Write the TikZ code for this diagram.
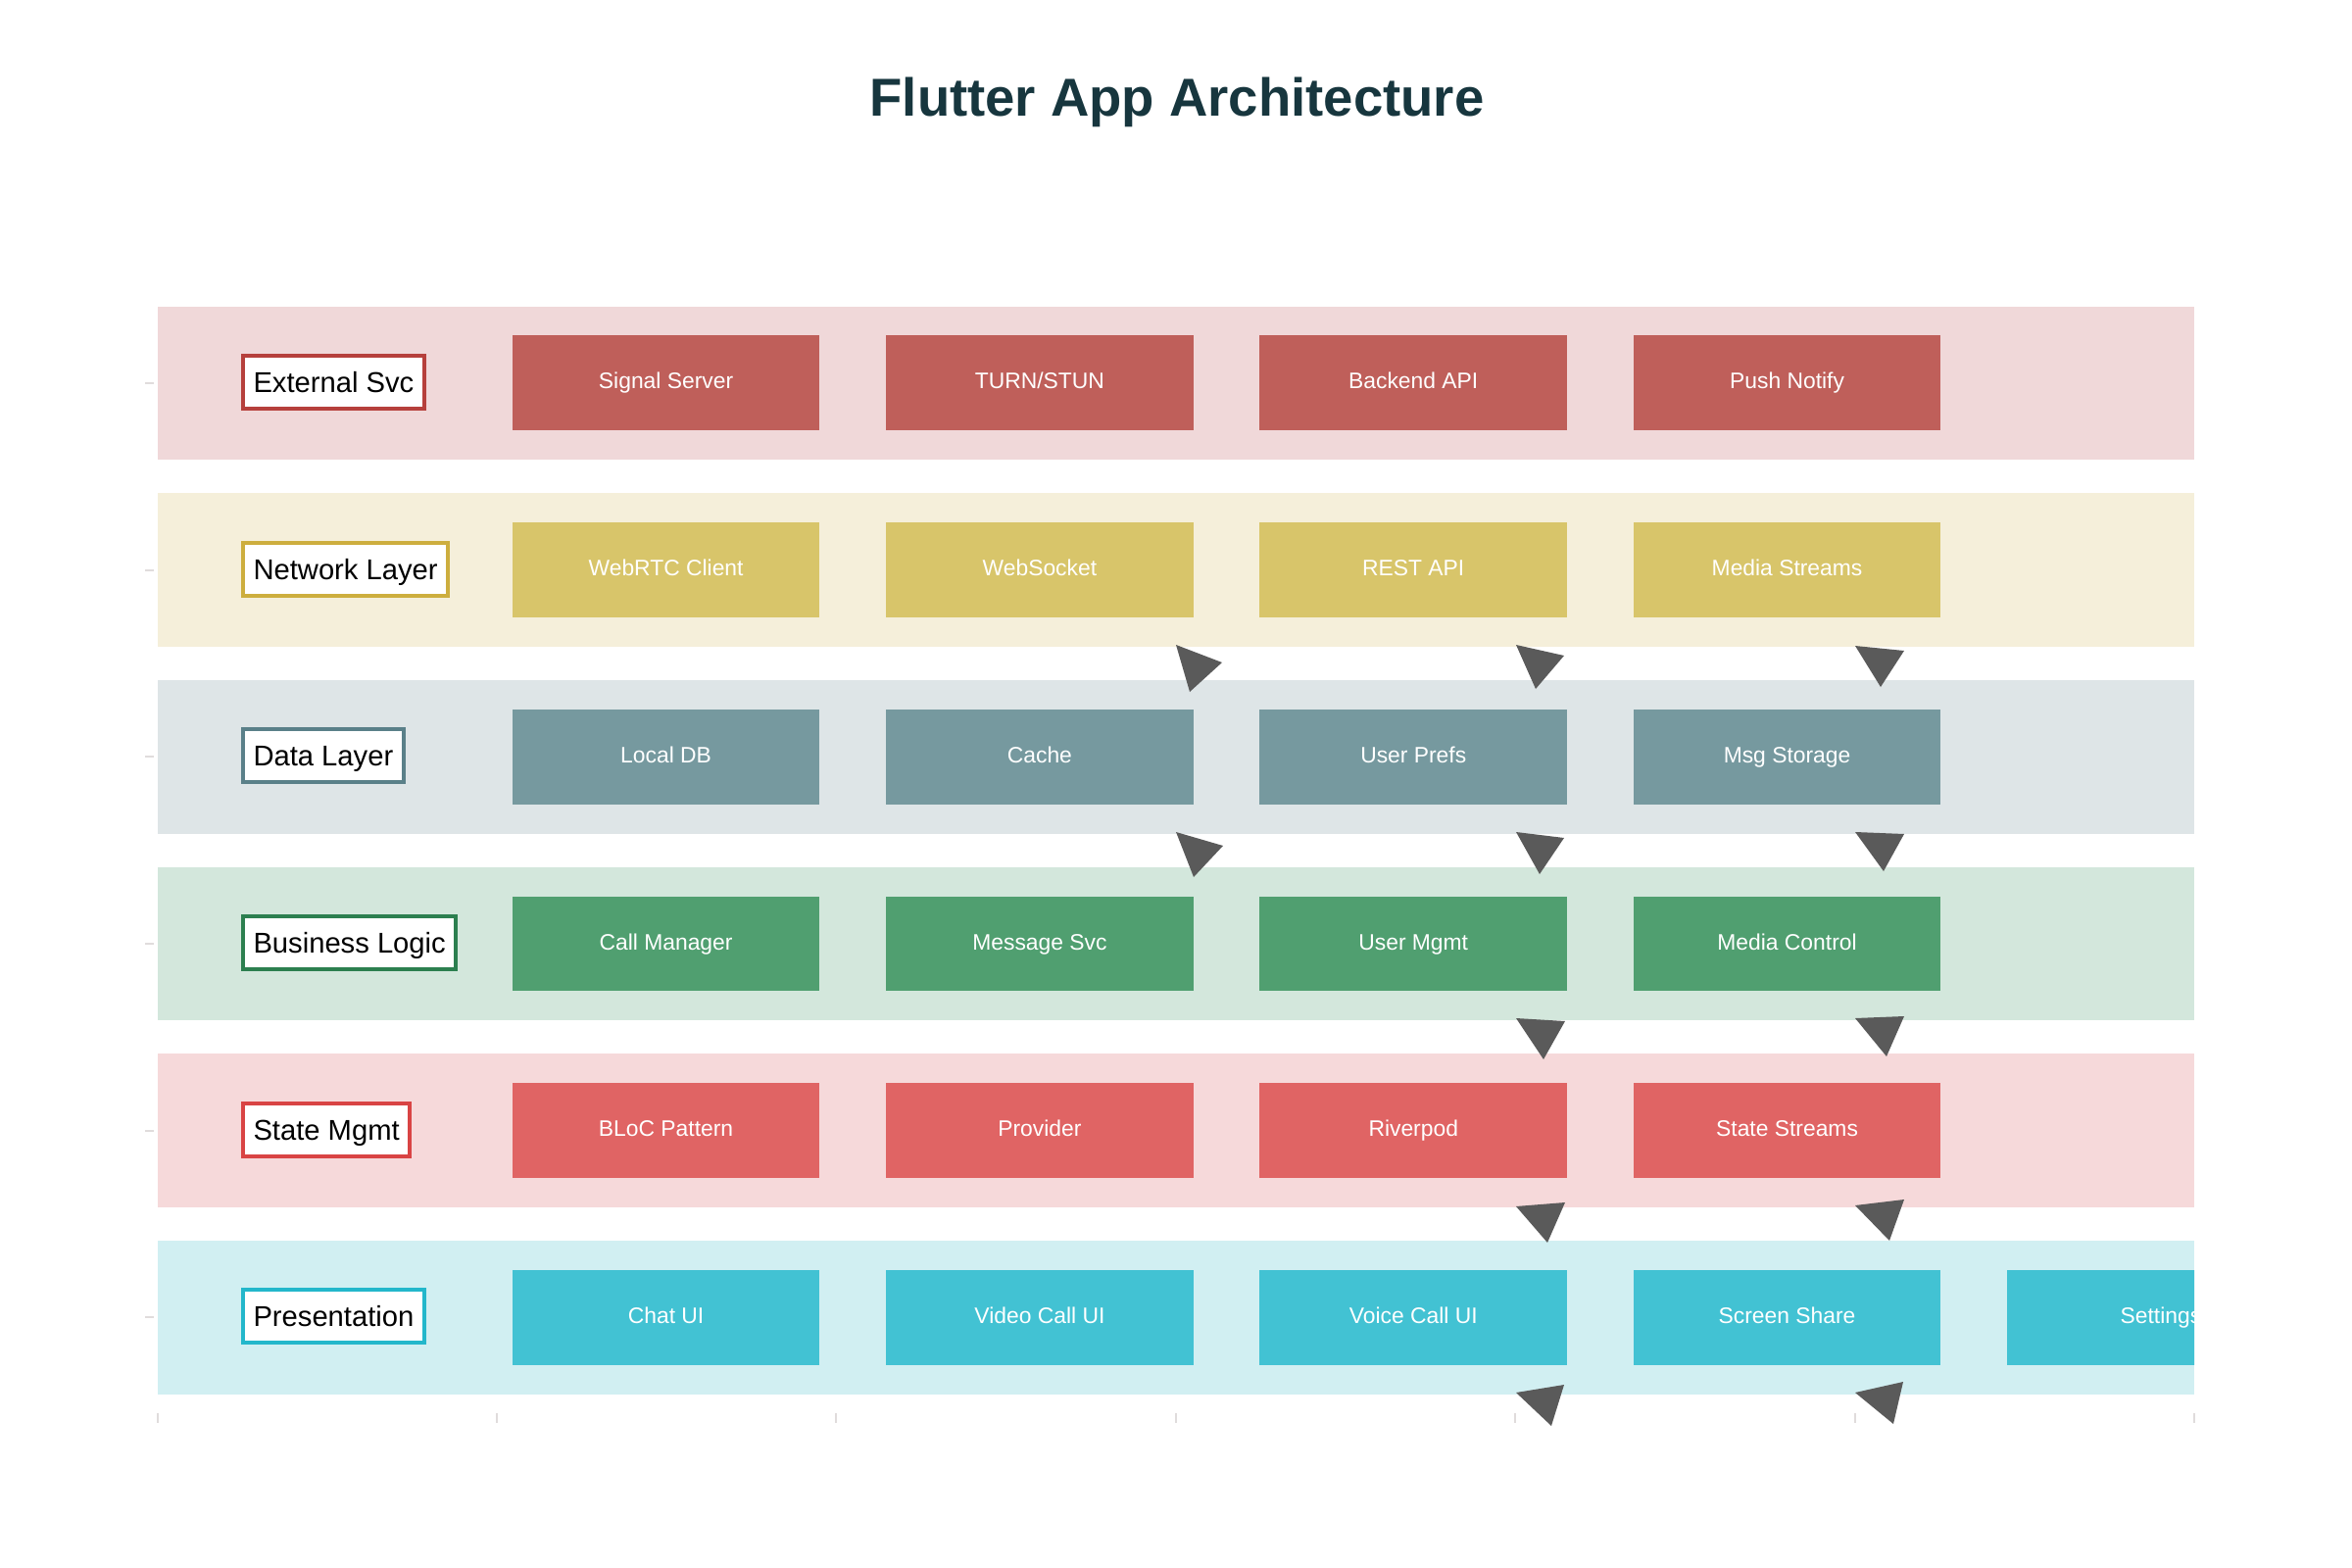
\documentclass[tikz,border=0pt]{standalone}
\usepackage{fontspec}
\setmainfont{Liberation Sans}
\usepackage{tikz}
\usetikzlibrary{matrix}

\definecolor{titlecol}{HTML}{17363E}
\definecolor{extband}{HTML}{F0D8D9}
\definecolor{extbox}{HTML}{BF5F5A}
\definecolor{extline}{HTML}{B6403C}
\definecolor{netband}{HTML}{F5EFDA}
\definecolor{netbox}{HTML}{D8C56A}
\definecolor{netline}{HTML}{CDAE3E}
\definecolor{databand}{HTML}{DEE5E7}
\definecolor{databox}{HTML}{76999F}
\definecolor{dataline}{HTML}{5A8089}
\definecolor{bizband}{HTML}{D3E7DC}
\definecolor{bizbox}{HTML}{509F70}
\definecolor{bizline}{HTML}{2C7F4F}
\definecolor{stateband}{HTML}{F6D9DA}
\definecolor{statebox}{HTML}{E06464}
\definecolor{stateline}{HTML}{D94444}
\definecolor{presband}{HTML}{D1EFF2}
\definecolor{presbox}{HTML}{42C2D3}
\definecolor{presline}{HTML}{23B7CB}
\definecolor{tickcol}{HTML}{E0DCDC}
\definecolor{headcol}{HTML}{5A5A5A}

\tikzset{
  box/.style={minimum width=3.136cm, minimum height=0.967cm, inner sep=0pt,
    anchor=center, text=white, font=\fontsize{6.5}{8}\selectfont,
    text height=3.4pt, text depth=0pt},
  lbl/.style={draw=#1, fill=white, line width=0.04cm, anchor=west,
    inner xsep=0.105cm, inner ysep=0pt, minimum height=0.537cm,
    text height=6pt, text depth=0pt, font=\fontsize{8.3}{10}\selectfont},
  tick/.style={draw=tickcol, line width=0.02cm},
  head/.style={fill=headcol}
}

\begin{document}
\begin{tikzpicture}[x=0.01cm, y=-0.01cm]
  \useasboundingbox (0,0) rectangle (2400,1600);

  \node[font=\fontsize{15.5}{19}\selectfont\bfseries, text=titlecol, anchor=base]
    (title) at (1201,119) {Flutter App Architecture};

  % layer bands with their labels
  \foreach \bnd/\lc/\nm/\txt [count=\i from 0] in {
      extband/extline/ext/External Svc,
      netband/netline/net/Network Layer,
      databand/dataline/data/Data Layer,
      bizband/bizline/biz/Business Logic,
      stateband/stateline/state/State Mgmt,
      presband/presline/pres/Presentation} {
    \fill[\bnd] (160.7,{312.7+190.66*\i}) rectangle (2239,{469.4+190.66*\i});
    \draw[tick] (148,{391+190.66*\i}) -- (157,{391+190.66*\i});
    \node[lbl=\lc] (\nm) at (246,{390+190.66*\i}) {\txt};
  }

  % axis ticks
  \foreach \k in {0,...,6}
    \draw[tick] ({160.7+346.38*\k},1442) -- ++(0,10);

  \begin{scope}
    \clip (0,0) rectangle (2239,1600);
    \matrix (m) [matrix of nodes, anchor=north west, inner sep=0pt,
      column sep=0.675cm, row sep=0.94cm, nodes={box},
      row 1/.style={nodes={fill=extbox}},
      row 2/.style={nodes={fill=netbox}},
      row 3/.style={nodes={fill=databox}},
      row 4/.style={nodes={fill=bizbox}},
      row 5/.style={nodes={fill=statebox}},
      row 6/.style={nodes={fill=presbox}}] at (522,341.5) {
      Signal Server & TURN/STUN & Backend API & Push Notify \\
      WebRTC Client & WebSocket & REST API & Media Streams \\
      Local DB & Cache & User Prefs & Msg Storage \\
      Call Manager & Message Svc & User Mgmt & Media Control \\
      BLoC Pattern & Provider & Riverpod & State Streams \\
      Chat UI & Video Call UI & Voice Call UI & Screen Share & Settings \\
    };
  \end{scope}

  % arrow heads
  \foreach \a/\b/\c in {
      {1200,658}/{1247,676}/{1214,706}, {1547,658}/{1596,669}/{1567,703},
      {1893,659}/{1943,664}/{1919,701}, {1200,849}/{1248,863}/{1218,895},
      {1547,849}/{1596,855}/{1571,892}, {1893,849}/{1943,851}/{1922,889},
      {1547,1039}/{1597,1042}/{1575,1081}, {1893,1039}/{1943,1037}/{1925,1078},
      {1547,1231}/{1597,1227}/{1579,1268}, {1893,1230}/{1943,1224}/{1928,1266},
      {1547,1421}/{1596,1413}/{1583,1455}, {1893,1421}/{1942,1410}/{1932,1453}}
    \fill[head] (\a) -- (\b) -- (\c) -- cycle;
\end{tikzpicture}
\end{document}
